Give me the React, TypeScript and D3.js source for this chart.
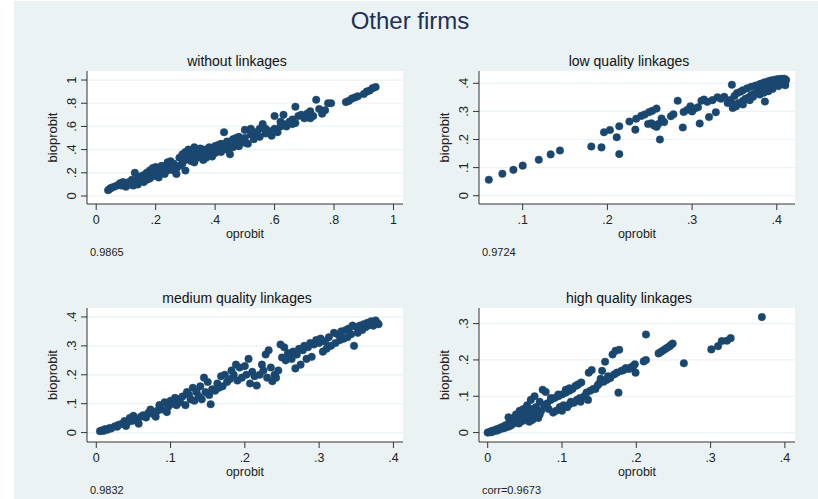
import React from 'react';
import * as d3 from 'd3';

const W = 818;
const H = 499;

const mainTitle = 'Other firms';
const panelTitles = ['without linkages', 'low quality linkages', 'medium quality linkages', 'high quality linkages'];
const panelNotes = ['0.9865', '0.9724', '0.9832', 'corr=0.9673'];
const xTitle = 'oprobit';
const yTitle = 'bioprobit';

// [oprobit, bioprobit]
const withoutPts: [number, number][] = [
  [0.04, 0.05], [0.045, 0.06], [0.05, 0.07], [0.06, 0.08], [0.07, 0.09], [0.08, 0.11], [0.085, 0.09], [0.09, 0.12],
  [0.1, 0.08], [0.1, 0.1], [0.11, 0.12], [0.115, 0.1], [0.12, 0.14], [0.125, 0.09], [0.13, 0.2], [0.13, 0.12],
  [0.14, 0.1], [0.14, 0.15], [0.15, 0.13], [0.15, 0.17], [0.16, 0.12], [0.16, 0.18], [0.17, 0.14], [0.17, 0.2],
  [0.18, 0.15], [0.18, 0.22], [0.19, 0.17], [0.19, 0.24], [0.2, 0.18], [0.2, 0.21], [0.2, 0.25], [0.21, 0.16],
  [0.21, 0.23], [0.22, 0.2], [0.22, 0.26], [0.23, 0.19], [0.23, 0.24], [0.24, 0.22], [0.24, 0.29], [0.25, 0.25],
  [0.25, 0.3], [0.26, 0.22], [0.26, 0.28], [0.27, 0.19], [0.27, 0.24], [0.28, 0.26], [0.28, 0.33], [0.29, 0.36],
  [0.29, 0.28], [0.3, 0.38], [0.3, 0.31], [0.3, 0.22], [0.31, 0.34], [0.31, 0.4], [0.32, 0.3], [0.32, 0.36],
  [0.33, 0.42], [0.33, 0.29], [0.34, 0.33], [0.34, 0.39], [0.35, 0.35], [0.35, 0.41], [0.36, 0.31], [0.36, 0.37],
  [0.37, 0.4], [0.37, 0.33], [0.38, 0.36], [0.38, 0.42], [0.39, 0.34], [0.39, 0.39], [0.4, 0.37], [0.4, 0.43],
  [0.41, 0.4], [0.42, 0.45], [0.42, 0.38], [0.43, 0.55], [0.43, 0.41], [0.44, 0.47], [0.45, 0.36], [0.45, 0.43],
  [0.46, 0.49], [0.46, 0.42], [0.47, 0.45], [0.48, 0.51], [0.48, 0.43], [0.49, 0.47], [0.5, 0.57], [0.5, 0.5],
  [0.51, 0.45], [0.52, 0.53], [0.52, 0.58], [0.53, 0.49], [0.54, 0.55], [0.55, 0.51], [0.55, 0.58], [0.56, 0.62],
  [0.57, 0.54], [0.58, 0.56], [0.59, 0.52], [0.6, 0.69], [0.6, 0.58], [0.61, 0.55], [0.62, 0.6], [0.63, 0.7],
  [0.63, 0.62], [0.64, 0.6], [0.65, 0.64], [0.66, 0.66], [0.67, 0.77], [0.67, 0.63], [0.68, 0.69], [0.69, 0.7],
  [0.7, 0.67], [0.71, 0.71], [0.72, 0.73], [0.72, 0.67], [0.73, 0.69], [0.74, 0.83], [0.75, 0.75], [0.76, 0.71],
  [0.77, 0.74], [0.78, 0.8], [0.79, 0.8], [0.84, 0.81], [0.85, 0.82], [0.86, 0.84], [0.87, 0.85], [0.88, 0.86],
  [0.9, 0.88], [0.91, 0.9], [0.92, 0.91], [0.93, 0.93], [0.94, 0.94],
  [0.16, 0.15], [0.19, 0.2], [0.22, 0.23], [0.26, 0.25], [0.29, 0.32], [0.33, 0.35], [0.36, 0.4], [0.39, 0.41],
  [0.41, 0.44], [0.44, 0.4], [0.47, 0.5], [0.5, 0.46], [0.53, 0.55], [0.57, 0.58], [0.62, 0.64], [0.66, 0.62],
];

const lowPts: [number, number][] = [
  [0.06, 0.057], [0.076, 0.078], [0.089, 0.092], [0.1, 0.107], [0.119, 0.128], [0.133, 0.147], [0.144, 0.161],
  [0.181, 0.175], [0.193, 0.172], [0.196, 0.226], [0.203, 0.234], [0.211, 0.208], [0.214, 0.247], [0.214, 0.148],
  [0.226, 0.264], [0.233, 0.235], [0.234, 0.274], [0.24, 0.284], [0.244, 0.289], [0.249, 0.297], [0.253, 0.302],
  [0.258, 0.31], [0.248, 0.255], [0.252, 0.258], [0.255, 0.25], [0.258, 0.245], [0.26, 0.255], [0.262, 0.2],
  [0.264, 0.275], [0.267, 0.262], [0.275, 0.283], [0.278, 0.29], [0.283, 0.338], [0.289, 0.243], [0.29, 0.298],
  [0.294, 0.305], [0.298, 0.318], [0.3, 0.3], [0.303, 0.31], [0.307, 0.315], [0.309, 0.257], [0.311, 0.338],
  [0.314, 0.342], [0.318, 0.334], [0.32, 0.28], [0.324, 0.34], [0.328, 0.297], [0.33, 0.35], [0.334, 0.345],
  [0.338, 0.352], [0.342, 0.33], [0.345, 0.34], [0.347, 0.395], [0.348, 0.312], [0.35, 0.325], [0.35, 0.355],
  [0.353, 0.365], [0.355, 0.33], [0.357, 0.37], [0.36, 0.338], [0.36, 0.375], [0.363, 0.345], [0.365, 0.382],
  [0.367, 0.35], [0.37, 0.388], [0.37, 0.358], [0.373, 0.362], [0.375, 0.392], [0.377, 0.368], [0.38, 0.397],
  [0.38, 0.372], [0.383, 0.4], [0.383, 0.378], [0.386, 0.335], [0.386, 0.404], [0.388, 0.383], [0.39, 0.407],
  [0.391, 0.388], [0.393, 0.41], [0.395, 0.393], [0.396, 0.412], [0.398, 0.398], [0.4, 0.414], [0.4, 0.402],
  [0.402, 0.39], [0.403, 0.415], [0.404, 0.406], [0.406, 0.416], [0.407, 0.398], [0.408, 0.41], [0.409, 0.416],
  [0.41, 0.405], [0.41, 0.393], [0.411, 0.412], [0.395, 0.38], [0.39, 0.372], [0.385, 0.367], [0.38, 0.36],
  [0.372, 0.352], [0.368, 0.34], [0.36, 0.325], [0.352, 0.318],
];

const mediumPts: [number, number][] = [
  [0.005, 0.005], [0.008, 0.008], [0.01, 0.006], [0.012, 0.012], [0.015, 0.01], [0.018, 0.016], [0.02, 0.014],
  [0.025, 0.022], [0.028, 0.02], [0.03, 0.027], [0.034, 0.03], [0.038, 0.04], [0.04, 0.023], [0.042, 0.035],
  [0.045, 0.05], [0.048, 0.04], [0.05, 0.058], [0.053, 0.048], [0.057, 0.031], [0.06, 0.055], [0.063, 0.06],
  [0.067, 0.052], [0.07, 0.068], [0.073, 0.08], [0.076, 0.065], [0.08, 0.055], [0.082, 0.075], [0.085, 0.095],
  [0.088, 0.08], [0.092, 0.105], [0.095, 0.071], [0.097, 0.09], [0.1, 0.11], [0.103, 0.1], [0.106, 0.12],
  [0.108, 0.095], [0.11, 0.115], [0.113, 0.105], [0.116, 0.125], [0.12, 0.095], [0.122, 0.14], [0.125, 0.13],
  [0.127, 0.115], [0.13, 0.155], [0.132, 0.11], [0.135, 0.14], [0.138, 0.125], [0.14, 0.16], [0.142, 0.115],
  [0.145, 0.19], [0.147, 0.14], [0.15, 0.175], [0.152, 0.13], [0.154, 0.098], [0.156, 0.15], [0.16, 0.145],
  [0.163, 0.17], [0.165, 0.155], [0.168, 0.195], [0.17, 0.16], [0.173, 0.2], [0.176, 0.175], [0.18, 0.185],
  [0.182, 0.215], [0.185, 0.2], [0.188, 0.235], [0.19, 0.18], [0.193, 0.225], [0.196, 0.19], [0.2, 0.23],
  [0.202, 0.2], [0.205, 0.255], [0.207, 0.17], [0.21, 0.21], [0.213, 0.195], [0.216, 0.163], [0.22, 0.2],
  [0.223, 0.235], [0.225, 0.215], [0.228, 0.27], [0.23, 0.19], [0.232, 0.285], [0.235, 0.225], [0.237, 0.178],
  [0.24, 0.2], [0.242, 0.19], [0.245, 0.215], [0.248, 0.305], [0.25, 0.26], [0.253, 0.295], [0.255, 0.25],
  [0.258, 0.275], [0.26, 0.265], [0.263, 0.255], [0.265, 0.28], [0.268, 0.222], [0.27, 0.27], [0.273, 0.29],
  [0.275, 0.235], [0.278, 0.285], [0.28, 0.3], [0.283, 0.255], [0.285, 0.295], [0.288, 0.31], [0.29, 0.262],
  [0.293, 0.305], [0.296, 0.32], [0.3, 0.31], [0.302, 0.325], [0.305, 0.28], [0.308, 0.315], [0.31, 0.29],
  [0.313, 0.33], [0.316, 0.3], [0.32, 0.345], [0.322, 0.31], [0.325, 0.34], [0.328, 0.32], [0.33, 0.35],
  [0.333, 0.325], [0.336, 0.355], [0.338, 0.33], [0.34, 0.36], [0.343, 0.34], [0.345, 0.37], [0.347, 0.3],
  [0.35, 0.365], [0.352, 0.345], [0.355, 0.37], [0.358, 0.355], [0.36, 0.375], [0.363, 0.365], [0.365, 0.38],
  [0.368, 0.372], [0.37, 0.385], [0.373, 0.37], [0.376, 0.388], [0.378, 0.38], [0.38, 0.375],
];

const highPts: [number, number][] = [
  [0, 0], [0.002, 0.001], [0.004, 0.003], [0.005, 0.001], [0.006, 0.005], [0.008, 0.004], [0.01, 0.007],
  [0.012, 0.005], [0.013, 0.01], [0.015, 0.008], [0.017, 0.013], [0.019, 0.011], [0.02, 0.016], [0.022, 0.012],
  [0.024, 0.02], [0.026, 0.015], [0.028, 0.025], [0.028, 0.042], [0.03, 0.018], [0.032, 0.03], [0.033, 0.022],
  [0.035, 0.04], [0.037, 0.028], [0.038, 0.05], [0.04, 0.035], [0.042, 0.025], [0.043, 0.06], [0.045, 0.045],
  [0.047, 0.032], [0.048, 0.065], [0.05, 0.05], [0.052, 0.04], [0.053, 0.075], [0.055, 0.058], [0.056, 0.03],
  [0.058, 0.09], [0.06, 0.065], [0.062, 0.045], [0.063, 0.1], [0.065, 0.07], [0.067, 0.055], [0.068, 0.04],
  [0.07, 0.085], [0.072, 0.06], [0.074, 0.118], [0.076, 0.075], [0.078, 0.112], [0.08, 0.08], [0.082, 0.065],
  [0.085, 0.09], [0.088, 0.055], [0.09, 0.095], [0.092, 0.06], [0.095, 0.1], [0.097, 0.07], [0.1, 0.105],
  [0.102, 0.075], [0.105, 0.11], [0.107, 0.07], [0.11, 0.115], [0.112, 0.085], [0.114, 0.12], [0.116, 0.082],
  [0.118, 0.128], [0.12, 0.09], [0.122, 0.133], [0.124, 0.095], [0.126, 0.138], [0.13, 0.1], [0.133, 0.11],
  [0.136, 0.165], [0.138, 0.115], [0.14, 0.172], [0.142, 0.12], [0.145, 0.12], [0.148, 0.13], [0.15, 0.135],
  [0.152, 0.148], [0.154, 0.17], [0.156, 0.14], [0.158, 0.195], [0.16, 0.145], [0.162, 0.155], [0.165, 0.15],
  [0.168, 0.215], [0.17, 0.16], [0.172, 0.225], [0.174, 0.165], [0.176, 0.11], [0.177, 0.228], [0.18, 0.17],
  [0.183, 0.172], [0.186, 0.178], [0.19, 0.175], [0.193, 0.18], [0.196, 0.183], [0.198, 0.188], [0.199, 0.165],
  [0.21, 0.196], [0.213, 0.2], [0.213, 0.27], [0.23, 0.218], [0.233, 0.222], [0.236, 0.226], [0.239, 0.23],
  [0.242, 0.234], [0.245, 0.238], [0.247, 0.242], [0.249, 0.245], [0.264, 0.191], [0.301, 0.229], [0.31, 0.238],
  [0.315, 0.252], [0.322, 0.253], [0.327, 0.26], [0.369, 0.318],
  [0.085, 0.095], [0.095, 0.105], [0.105, 0.118], [0.11, 0.122], [0.12, 0.13], [0.065, 0.062], [0.06, 0.035],
  [0.055, 0.045], [0.07, 0.05], [0.1, 0.06], [0.11, 0.078], [0.125, 0.085], [0.135, 0.09],
];

const xTicksWithout = [0, 0.2, 0.4, 0.6, 0.8, 1];
const yTicksWithout = [0, 0.2, 0.4, 0.6, 0.8, 1];
const xTicksLow = [0.1, 0.2, 0.3, 0.4];
const yTicksLow = [0, 0.1, 0.2, 0.3, 0.4];
const xTicksMedium = [0, 0.1, 0.2, 0.3, 0.4];
const yTicksMedium = [0, 0.1, 0.2, 0.3, 0.4];
const xTicksHigh = [0, 0.1, 0.2, 0.3, 0.4];
const yTicksHigh = [0, 0.1, 0.2, 0.3];

// axis extents of each panel (Stata pads a bit beyond the data)
const xExtents: [number, number][] = [[-0.031, 1.032], [0.0484, 0.4215], [-0.0125, 0.4129], [-0.0117, 0.4136]];
const yExtents: [number, number][] = [[-0.069, 1.078], [-0.0295, 0.4438], [-0.0325, 0.431], [-0.0259, 0.343]];

const NAVY = '#1a476f';
const BG = '#eaf2f3';
const FONT = '"Liberation Sans", Arial, Helvetica, sans-serif';

// Stata style labels: 0, .2, 1
const fmt = (v: number) => {
  const s = d3.format('~g')(+v.toFixed(4));
  return s.startsWith('0.') ? s.slice(1) : s;
};

type PanelProps = {
  box: { l: number; t: number; r: number; b: number };
  title: string;
  note: string;
  pts: [number, number][];
  xTicks: number[];
  yTicks: number[];
  xExt: [number, number];
  yExt: [number, number];
};

const Panel = ({ box, title, note, pts, xTicks, yTicks, xExt, yExt }: PanelProps) => {
  const { l, t, r, b } = box;
  const x = d3.scaleLinear().domain(xExt).range([l, r]);
  const y = d3.scaleLinear().domain(yExt).range([b, t]);
  const tick = 6;
  return (
    <g>
      <rect x={l} y={t} width={r - l} height={b - t} fill="#fff" />
      {yTicks.map((v) => (
        <line key={'g' + v} x1={l} x2={r} y1={y(v)} y2={y(v)} stroke={BG} strokeWidth={1.2} />
      ))}
      {pts.map((p, i) => (
        <circle key={i} cx={x(p[0])} cy={y(p[1])} r={3.8} fill={NAVY} stroke={NAVY} strokeWidth={0.4} />
      ))}
      <line x1={l} x2={l} y1={t} y2={b} stroke="#333" strokeWidth={1} />
      <line x1={l} x2={r} y1={b} y2={b} stroke="#333" strokeWidth={1} />
      {yTicks.map((v) => (
        <g key={'y' + v}>
          <line x1={l - tick} x2={l} y1={y(v)} y2={y(v)} stroke="#333" />
          <text
            transform={`translate(${l - 11},${y(v)}) rotate(-90)`}
            textAnchor="middle"
            fontSize={13}
            fill="#222"
          >
            {fmt(v)}
          </text>
        </g>
      ))}
      {xTicks.map((v) => (
        <g key={'x' + v}>
          <line x1={x(v)} x2={x(v)} y1={b} y2={b + tick} stroke="#333" />
          <text x={x(v)} y={b + 20} textAnchor="middle" fontSize={12.5} fill="#222">
            {fmt(v)}
          </text>
        </g>
      ))}
      <text x={(l + r) / 2} y={b + 34} textAnchor="middle" fontSize={12.5} fill="#222">
        {xTitle}
      </text>
      <text
        transform={`translate(${l - 30},${(t + b) / 2}) rotate(-90)`}
        textAnchor="middle"
        fontSize={13}
        fill="#222"
      >
        {yTitle}
      </text>
      <text x={(l + r) / 2 - 8} y={t - 5} textAnchor="middle" fontSize={14} fill="#111">
        {title}
      </text>
      <text x={l + 3} y={b + 52} fontSize={11} fill="#222">
        {note}
      </text>
    </g>
  );
};

export default function App() {
  const boxes = [
    { l: 87, t: 71, r: 403, b: 204 },
    { l: 479, t: 71, r: 795, b: 204 },
    { l: 87, t: 308, r: 403, b: 442 },
    { l: 479, t: 308, r: 795, b: 442 },
  ];
  const data = [withoutPts, lowPts, mediumPts, highPts];
  const xT = [xTicksWithout, xTicksLow, xTicksMedium, xTicksHigh];
  const yT = [yTicksWithout, yTicksLow, yTicksMedium, yTicksHigh];
  return (
    <svg
      width={W}
      height={H}
      style={{ position: 'absolute', left: 0, top: 0, fontFamily: FONT }}
    >
      <rect x={0} y={0} width={W} height={H} fill="#fff" />
      <rect x={14} y={1} width={W - 14} height={H - 1} fill={BG} />
      <text x={410} y={29} textAnchor="middle" fontSize={24} fill="#1f3057">
        {mainTitle}
      </text>
      {boxes.map((bx, i) => (
        <Panel
          key={i}
          box={bx}
          title={panelTitles[i]}
          note={panelNotes[i]}
          pts={data[i]}
          xTicks={xT[i]}
          yTicks={yT[i]}
          xExt={xExtents[i]}
          yExt={yExtents[i]}
        />
      ))}
    </svg>
  );
}
